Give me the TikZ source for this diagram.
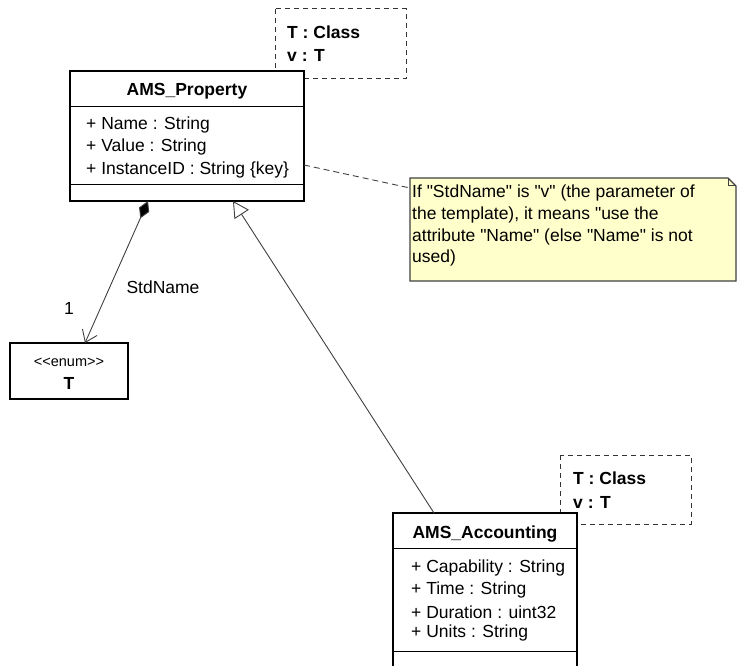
\documentclass[tikz,border=0pt]{standalone}
\usepackage{fontspec}
\setmainfont{Liberation Sans}
\newfontfamily\plainsans{Liberation Sans}
\usetikzlibrary{arrows.meta}
\definecolor{notefill}{HTML}{FFFFCC}
\definecolor{linegray}{HTML}{404040}
\tikzset{
  classbox/.style={draw=black, line width=2pt, fill=white},
  sep/.style={draw=black, line width=1pt},
  tmpl/.style={draw=black!80, dashed, dash pattern=on 5pt off 4pt, line width=1pt},
  txt/.style={inner sep=0pt, anchor=west, font=\plainsans\fontsize{17.5}{20}\selectfont},
  ttl/.style={inner sep=0pt, font=\plainsans\fontsize{17.5}{20}\selectfont\bfseries},
  conn/.style={draw=linegray, line width=0.9pt},
}
\begin{document}
\begin{tikzpicture}[x=1pt,y=-1pt]
\useasboundingbox (0,0) rectangle (737,666);
% template boxes
\draw[tmpl] (275,9) rectangle (406,79);
\node[txt] (t1a) at (287,32) {\textbf{T : Class}};
\node[txt] (t1b) at (287,55) {\textbf{v : T}};
\draw[tmpl] (560,455) rectangle (691,524);
\node[txt] (t2a) at (573,478) {\textbf{T : Class}};
\node[txt] (t2b) at (573,502) {\textbf{v : T}};
% AMS_Property
\draw[classbox] (70,71) rectangle (304,201);
\coordinate (propE) at (304,165);
\draw[sep] (70,107) -- (304,107);
\draw[sep] (70,185) -- (304,185);
\node[ttl] (ptitle) at (187,91) {AMS\_Property};
\node[txt] (pa1) at (86,125) {+ Name : String};
\node[txt] (pa2) at (86,147) {+ Value : String};
\node[txt] (pa3) at (86,170) {+ InstanceID : String \{key\}};
% enum T
\draw[classbox] (10,343) rectangle (128,399);
\node[inner sep=0pt, font=\plainsans\fontsize{14.5}{16}\selectfont] (estereo) at (69,362) {<{}<enum>{}>};
\node[ttl] (etitle) at (69,383) {T};
% AMS_Accounting
\draw[classbox] (393,513) rectangle (577,668);
\draw[sep] (393,548) -- (577,548);
\draw[sep] (393,651) -- (577,651);
\node[ttl] (atitle) at (485,534) {AMS\_Accounting};
\node[txt] (aa1) at (411,568) {+ Capability : String};
\node[txt] (aa2) at (411,590) {+ Time : String};
\node[txt] (aa3) at (411,612) {+ Duration : uint32};
\node[txt] (aa4) at (411,633) {+ Units : String};
% note
\draw[fill=notefill, draw=linegray, line width=1.2pt] (410,178) -- (728,178) -- (736,186) -- (736,281) -- (410,281) -- cycle;
\draw[draw=linegray, line width=1pt] (728,178) -- (728,186) -- (736,186);
\coordinate (noteW) at (410,188);
\node[txt] (n1) at (412,193) {If "StdName" is "v" (the parameter of};
\node[txt] (n2) at (412,215) {the template), it means "use the};
\node[txt] (n3) at (412,237) {attribute "Name" (else "Name" is not};
\node[txt] (n4) at (412,258) {used)};
\draw[conn, dashed, dash pattern=on 6pt off 4pt] (propE) -- (noteW);
% connectors
\coordinate (compS) at (148,201);
\coordinate (enumN) at (85,343);
\draw[conn, {Diamond[length=19pt,width=11pt,fill=black]}-{Straight Barb[length=11pt,width=16pt]}] (compS) -- (enumN);
\node[txt, anchor=center] (lbl) at (163,287) {StdName};
\node[txt, anchor=center] (mult) at (69,308) {1};
\coordinate (genT) at (233,201);
\coordinate (accN) at (434,513);
\draw[conn, -{Triangle[open,length=16pt,width=17pt,fill=white]}] (accN) -- (genT);
\end{tikzpicture}
\end{document}
